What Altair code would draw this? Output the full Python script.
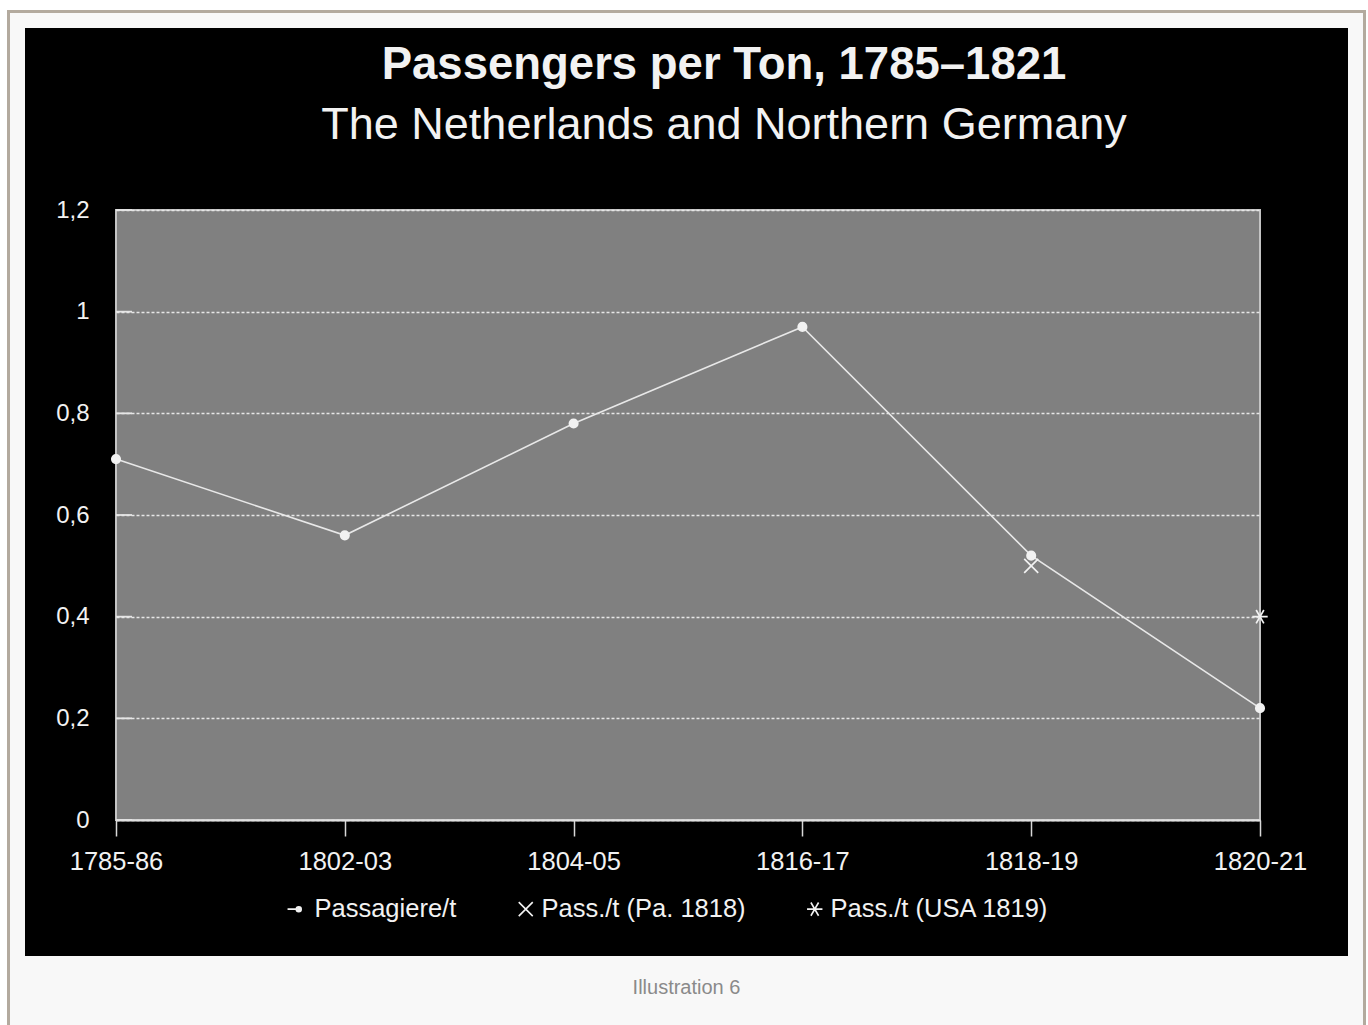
import altair as alt
import pandas as pd

# ---- data ----
periods = ["1785-86", "1802-03", "1804-05", "1816-17", "1818-19", "1820-21"]
passagiere = [0.71, 0.56, 0.78, 0.97, 0.52, 0.22]
pa_period = ["1818-19"]
pa_values = [0.50]
usa_period = ["1820-21"]
usa_values = [0.40]
series_names = ["Passagiere/t", "Pass./t (Pa. 1818)", "Pass./t (USA 1819)"]
y_ticks = [0, 0.2, 0.4, 0.6, 0.8, 1.0, 1.2]

line_df = pd.DataFrame({"period": periods, "value": passagiere, "series": series_names[0]})
pts_df = pd.concat([
    line_df,
    pd.DataFrame({"period": pa_period, "value": pa_values, "series": series_names[1]}),
    pd.DataFrame({"period": usa_period, "value": usa_values, "series": series_names[2]}),
], ignore_index=True)
tick_df = pd.DataFrame({"value": y_ticks})

FONT = "Liberation Sans, Arial, sans-serif"
W, H = 1144, 610
WHITE = "#f2f2f2"

CIRCLE = "M0.6,0A0.6,0.6 0 1,1 -0.6,0A0.6,0.6 0 1,1 0.6,0Z"
CROSS = "M-1,-1L1,1M-1,1L1,-1"
STAR = "M-1.1,0L1.1,0M-0.55,-0.95L0.55,0.95M-0.55,0.95L0.55,-0.95"
LINEDOT = ("M-1.6,0L-0.35,0M0.35,0A0.35,0.35 0 1,1 -0.35,0A0.35,0.35 0 1,1 0.35,0"
           "M0.12,0A0.12,0.12 0 1,1 -0.12,0A0.12,0.12 0 1,1 0.12,0")

x_enc = alt.X("period:N", sort=periods, scale=alt.Scale(type="point", padding=0),
              axis=alt.Axis(title="Illustration 6", labelAngle=0, labelFontSize=25.5,
                            labelColor=WHITE, labelFont=FONT, tickSize=16, tickColor="#d8d8d8",
                            tickWidth=1.5, domainColor="#e0e0e0", domainWidth=2,
                            labelPadding=13, grid=False, zindex=1,
                            titleColor="#8a8a8a", titleFont=FONT, titleFontSize=20,
                            titleFontWeight="normal", titleX=570, titleY=167,
                            titleAlign="center", titleBaseline="middle"))
y_enc = alt.Y("value:Q", scale=alt.Scale(domain=[0, 1.2], nice=False),
              axis=alt.Axis(title=None, values=y_ticks, ticks=False, domain=False,
                            labelFontSize=24, labelColor=WHITE, labelFont=FONT,
                            labelPadding=27,
                            labelExpr="replace(toString(datum.value), '.', ',')",
                            grid=True, gridColor="#e6e6e6", gridDash=[3, 2], gridWidth=1.6,
                            zindex=1))

one = pd.DataFrame({"k": [0]})

frame = alt.Chart(one).mark_rect(fill="#f8f8f8", stroke="#b3aa9e", strokeWidth=3).encode(
    x=alt.value(-107.5), x2=alt.value(1248.5), y=alt.value(-198.5), y2=alt.value(830))
black = alt.Chart(one).mark_rect(fill="#000000").encode(
    x=alt.value(-91), x2=alt.value(1232), y=alt.value(-182), y2=alt.value(746))
plotbg = alt.Chart(one).mark_rect(fill="#808080", stroke="#c4c4c4", strokeWidth=2).encode(
    x=alt.value(0), x2=alt.value(W), y=alt.value(0), y2=alt.value(H))

inner_ticks = alt.Chart(tick_df).mark_rule(color="#e6e6e6", strokeWidth=1.8).encode(
    y=y_enc, x=alt.value(0), x2=alt.value(16))

line = alt.Chart(line_df).mark_line(color="#e8e8e8", strokeWidth=1.6).encode(x=x_enc, y=y_enc)

points = alt.Chart(pts_df).mark_point(fill=WHITE, stroke=WHITE, strokeWidth=1.7,
                                      opacity=1, size=196).encode(
    x=x_enc, y=y_enc,
    shape=alt.Shape("series:N", sort=series_names,
                    scale=alt.Scale(domain=series_names, range=[CIRCLE, CROSS, STAR]),
                    legend=None)
)

legend_layer = alt.Chart(pts_df).transform_filter("false").mark_point(
    filled=False, color=WHITE, strokeWidth=1.6, opacity=1, size=196).encode(
    x=x_enc, y=y_enc,
    shape=alt.Shape("series:N", sort=series_names,
                    scale=alt.Scale(domain=series_names, range=[LINEDOT, CROSS, STAR]),
                    legend=alt.Legend(title=None, orient="none", legendX=170, legendY=686,
                                      direction="horizontal", labelFontSize=25.5,
                                      labelFont=FONT, labelColor=WHITE, symbolSize=196,
                                      symbolStrokeColor=WHITE,
                                      symbolStrokeWidth=1.6, labelOffset=3, labelLimit=400,
                                      columnPadding=56, padding=0))
)

chart = alt.layer(frame, black, plotbg, inner_ticks, line, points, legend_layer).resolve_scale(
    shape="independent"
).properties(
    width=W, height=H,
    autosize=alt.AutoSizeParams(type="none"),
    padding={"left": 116, "top": 210, "right": 108, "bottom": 205},
    background="#ffffff",
    title=alt.TitleParams(
        text="Passengers per Ton, 1785–1821",
        subtitle="The Netherlands and Northern Germany",
        anchor="middle", dx=36, color=WHITE, font=FONT, fontSize=45.5, fontWeight="bold",
        subtitleColor=WHITE, subtitleFont=FONT, subtitleFontSize=45,
        subtitleFontWeight="normal", subtitlePadding=15, offset=-138),
).configure_view(stroke=None)

chart.save("out.html", embed_options={"renderer": "svg", "actions": False})
